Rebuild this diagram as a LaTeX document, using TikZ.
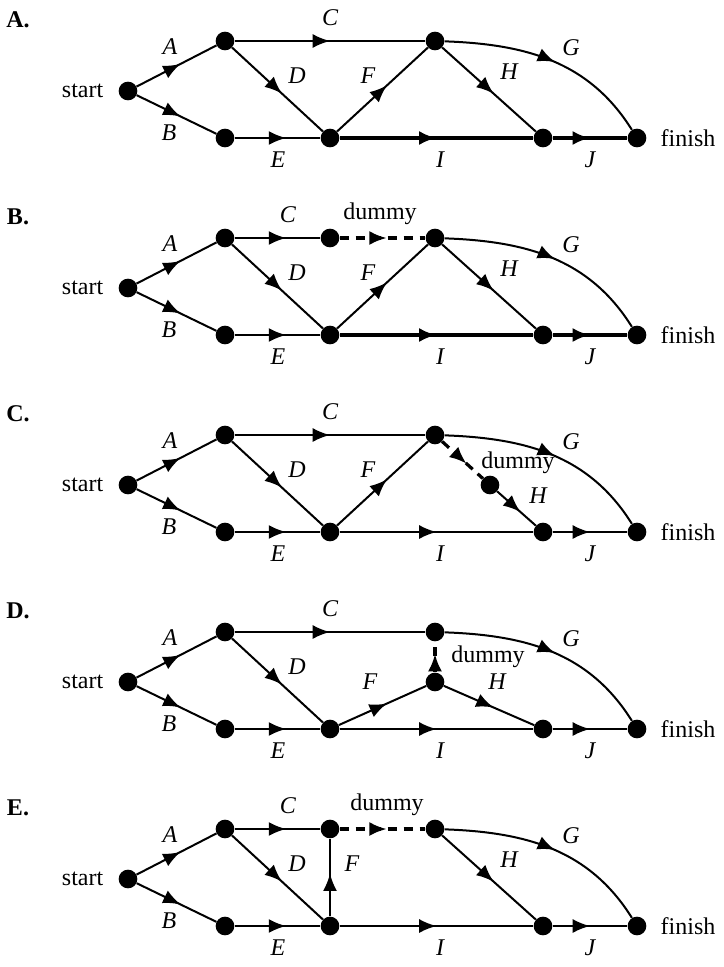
\documentclass[tikz,border=0pt]{standalone}
\usepackage{fontspec}
\setmainfont{Liberation Serif}
\usetikzlibrary{arrows.meta, decorations.markings}

\tikzset{
  ev/.style={circle, fill=black, inner sep=0pt, minimum size=14pt},
  act/.style={line width=1.5pt, postaction={decorate},
    decoration={markings, mark=at position #1 with {\arrow{Latex[length=13pt,width=10.5pt]}}}},
  act/.default=0.55,
  heavy/.style={line width=2.8pt},
  dum/.style={dashed, dash pattern=on 7pt off 5pt, line width=2.4pt},
  lbl/.style={font=\fontsize{18}{20}\selectfont\itshape},
}

% common events of one panel, #1 = prefix
\newcommand\events[1]{
  \node[ev] (#1s) at (128,91) {};
  \node[ev] (#1tl) at (225,41) {};
  \node[ev] (#1bl) at (225,138) {};
  \node[ev] (#1tm) at (435,41) {};
  \node[ev] (#1bm) at (330,138) {};
  \node[ev] (#1rl) at (543,138) {};
  \node[ev] (#1f) at (637,138) {};
  \node[anchor=east] (#1st) at (108,91) {start};
  \node[anchor=west] (#1fi) at (656,138) {finish};
  \node[lbl] (#1la) at (170,47) {A};
  \node[lbl] (#1lb) at (169,133) {B};
  \node[lbl] (#1le) at (278,160) {E};
  \node[lbl] (#1li) at (440,160) {I};
  \node[lbl] (#1lj) at (590,160) {J};
  \node[lbl] (#1lg) at (571,48) {G};
  \draw[act] (#1s) -- (#1tl);
  \draw[act] (#1s) -- (#1bl);
  \draw[act=0.6] (#1bl) -- (#1bm);
  \draw[act=0.52] (#1tm) to[out=-2,in=122] (#1f);
}

\begin{document}
\begin{tikzpicture}[x=0.75pt, y=-0.75pt, font=\fontsize{18}{20}\selectfont]
\useasboundingbox (0,0) rectangle (724,967);

% A
\begin{scope}
  \node[font=\fontsize{18}{20}\selectfont\bfseries] (pa) at (18,20) {A.};
  \events{a}
  \draw[act=0.5] (atl) -- (atm);
  \draw[act] (atl) -- (abm);
  \draw[act] (abm) -- (atm);
  \draw[act] (atm) -- (arl);
  \draw[act=0.5, heavy] (abm) -- (arl);
  \draw[act=0.5, heavy] (arl) -- (af);
  \node[lbl] (alc) at (330,18) {C};
  \node[lbl] (ald) at (297,76) {D};
  \node[lbl] (alf) at (368,76) {F};
  \node[lbl] (alh) at (509,72) {H};
\end{scope}

% B
\begin{scope}[yshift=-197*0.75pt]
  \node[font=\fontsize{18}{20}\selectfont\bfseries] (pb) at (18,20) {B.};
  \events{b}
  \node[ev] (bc) at (330,41) {};
  \draw[act=0.6] (btl) -- (bc);
  \draw[dum, postaction={decorate}, decoration={markings, mark=at position 0.55 with {\arrow[solid]{Latex[length=13pt,width=10.5pt]}}}] (bc) -- (btm);
  \draw[act] (btl) -- (bbm);
  \draw[act] (bbm) -- (btm);
  \draw[act] (btm) -- (brl);
  \draw[act=0.5, heavy] (bbm) -- (brl);
  \draw[act=0.5, heavy] (brl) -- (bf);
  \node[lbl] (blc) at (288,18) {C};
  \node (bdu) at (380,17) {dummy};
  \node[lbl] (bld) at (297,76) {D};
  \node[lbl] (blf) at (368,76) {F};
  \node[lbl] (blh) at (509,72) {H};
\end{scope}

% C
\begin{scope}[yshift=-394*0.75pt]
  \node[font=\fontsize{18}{20}\selectfont\bfseries] (pc) at (18,20) {C.};
  \events{c}
  \node[ev] (cd) at (490,91) {};
  \draw[act=0.5] (ctl) -- (ctm);
  \draw[act] (ctl) -- (cbm);
  \draw[act] (cbm) -- (ctm);
  \draw[dum, postaction={decorate}, decoration={markings, mark=at position 0.6 with {\arrow[solid]{Latex[length=13pt,width=10.5pt]}}}] (ctm) -- (cd);
  \draw[act=0.6] (cd) -- (crl);
  \draw[act=0.5] (cbm) -- (crl);
  \draw[act=0.5] (crl) -- (cf);
  \node[lbl] (clc) at (330,18) {C};
  \node (cdu) at (518,69) {dummy};
  \node[lbl] (cld) at (297,76) {D};
  \node[lbl] (clf) at (368,76) {F};
  \node[lbl] (clh) at (538,102) {H};
\end{scope}

% D
\begin{scope}[yshift=-591*0.75pt]
  \node[font=\fontsize{18}{20}\selectfont\bfseries] (pd) at (18,20) {D.};
  \events{d}
  \node[ev] (dd) at (435,91) {};
  \draw[act=0.5] (dtl) -- (dtm);
  \draw[act] (dtl) -- (dbm);
  \draw[act] (dbm) -- (dd);
  \draw[dum, postaction={decorate}, decoration={markings, mark=at position 0.6 with {\arrow[solid]{Latex[length=13pt,width=10.5pt]}}}] (dd) -- (dtm);
  \draw[act] (dd) -- (drl);
  \draw[act=0.5] (dbm) -- (drl);
  \draw[act=0.5] (drl) -- (df);
  \node[lbl] (dlc) at (330,18) {C};
  \node (ddu) at (488,66) {dummy};
  \node[lbl] (dld) at (297,76) {D};
  \node[lbl] (dlf) at (370,91) {F};
  \node[lbl] (dlh) at (497,91) {H};
\end{scope}

% E
\begin{scope}[yshift=-788*0.75pt]
  \node[font=\fontsize{18}{20}\selectfont\bfseries] (pe) at (18,20) {E.};
  \events{e}
  \node[ev] (ec) at (330,41) {};
  \draw[act=0.6] (etl) -- (ec);
  \draw[dum, postaction={decorate}, decoration={markings, mark=at position 0.55 with {\arrow[solid]{Latex[length=13pt,width=10.5pt]}}}] (ec) -- (etm);
  \draw[act] (etl) -- (ebm);
  \draw[act=0.55] (ebm) -- (ec);
  \draw[act] (etm) -- (erl);
  \draw[act=0.5] (ebm) -- (erl);
  \draw[act=0.5] (erl) -- (ef);
  \node[lbl] (elc) at (288,18) {C};
  \node (edu) at (387,17) {dummy};
  \node[lbl] (eld) at (297,76) {D};
  \node[lbl] (elf) at (352,76) {F};
  \node[lbl] (elh) at (509,72) {H};
\end{scope}
\end{tikzpicture}
\end{document}
